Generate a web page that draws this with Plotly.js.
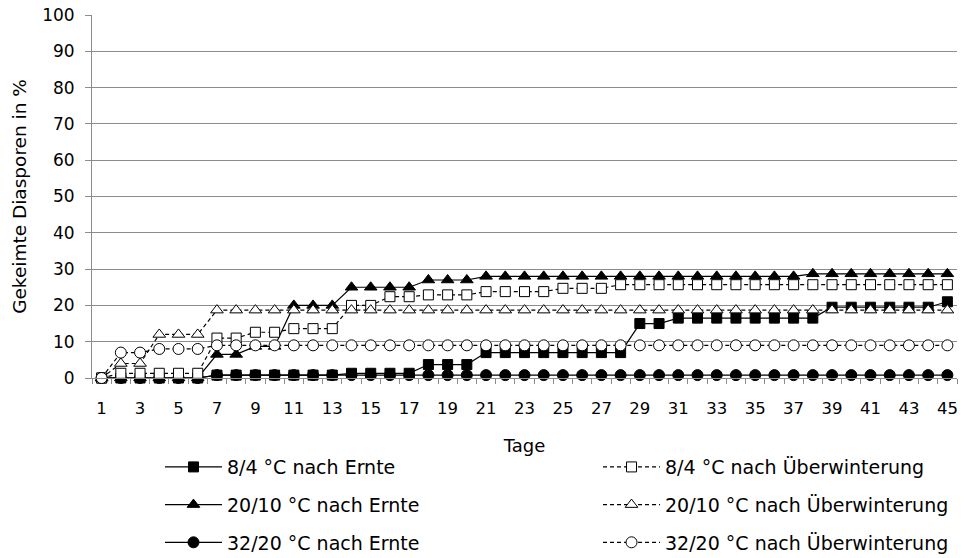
<!DOCTYPE html>
<html>
<head>
<meta charset="utf-8">
<script src="https://cdn.plot.ly/plotly-3.0.1.min.js"></script>
<style>html,body{margin:0;padding:0;background:#fff;}#chart{width:969px;height:558px;}</style>
</head>
<body>
<div id="chart"></div>
<script>
// Days (categories)
const days = [1,2,3,4,5,6,7,8,9,10,11,12,13,14,15,16,17,18,19,20,21,22,23,24,25,26,27,28,29,30,31,32,33,34,35,36,37,38,39,40,41,42,43,44,45];
const tickDays   = [1,3,5,7,9,11,13,15,17,19,21,23,25,27,29,31,33,35,37,39,41,43,45];
const tickLabels = ['1','3','5','7','9','11','13','15','17','19','21','23','25','27','29','31','33','35','37','39','41','43','45'];

// 8/4 °C nach Ernte (filled square, solid)
const ernte84 = [0,0,0,0,0,0,0.8,0.8,0.8,0.8,0.8,0.8,0.8,1.3,1.3,1.3,1.3,3.7,3.7,3.7,7,7,7,7,7,7,7,7,15,15,16.5,16.5,16.5,16.5,16.5,16.5,16.5,16.5,19.5,19.5,19.5,19.5,19.5,19.5,21];
// 8/4 °C nach Überwinterung (open square, dashed)
const uew84 = [0,1.3,1.3,1.3,1.3,1.3,11,11,12.6,12.6,13.6,13.6,13.6,20,20,22.4,22.4,22.9,22.9,22.9,23.8,23.8,23.8,23.8,24.7,24.7,24.7,25.7,25.7,25.7,25.7,25.7,25.7,25.7,25.7,25.7,25.7,25.7,25.7,25.7,25.7,25.7,25.7,25.7,25.7];
// 20/10 °C nach Ernte (filled triangle, solid)
const ernte2010 = [0,0,0,0,0,0,6.5,6.5,8.7,8.7,20,20,20,25,25,25,25,27,27,27,28,28,28,28,28,28,28,28,28,28,28,28,28,28,28,28,28,28.7,28.7,28.7,28.7,28.7,28.7,28.7,28.7];
// 20/10 °C nach Überwinterung (open triangle, dashed)
const uew2010 = [0,4,4,12,12,12,18.7,18.7,18.7,18.7,18.7,18.7,18.7,18.7,18.7,18.7,18.7,18.7,18.7,18.7,18.7,18.7,18.7,18.7,18.7,18.7,18.7,18.7,18.7,18.7,18.7,18.7,18.7,18.7,18.7,18.7,18.7,18.7,18.7,18.7,18.7,18.7,18.7,18.7,18.7];
// 32/20 °C nach Ernte (filled circle, solid)
const ernte3220 = [0,0,0,0,0,0,0.8,0.8,0.8,0.8,0.8,0.8,0.8,0.8,0.8,0.8,0.8,0.8,0.8,0.8,0.8,0.8,0.8,0.8,0.8,0.8,0.8,0.8,0.8,0.8,0.8,0.8,0.8,0.8,0.8,0.8,0.8,0.8,0.8,0.8,0.8,0.8,0.8,0.8,0.8];
// 32/20 °C nach Überwinterung (open circle, dashed)
const uew3220 = [0,7,7,8,8,8,9,9,9,9,9,9,9,9,9,9,9,9,9,9,9,9,9,9,9,9,9,9,9,9,9,9,9,9,9,9,9,9,9,9,9,9,9,9,9];

const names = {
  e84: '8/4 °C nach Ernte',
  u84: '8/4 °C nach Überwinterung',
  e2010: '20/10 °C nach Ernte',
  u2010: '20/10 °C nach Überwinterung',
  e3220: '32/20 °C nach Ernte',
  u3220: '32/20 °C nach Überwinterung'
};

const FONT = 'DejaVu Sans, Liberation Sans, Arial, sans-serif';
const BLACK = '#000000';

function tr(y, name, symbol, filled, dashed, size, legend, group) {
  return {
    x: days, y: y, name: name, type: 'scatter', mode: 'lines+markers',
    legend: legend, legendgroup: group,
    line: {color: BLACK, width: 1.2, dash: dashed ? '4px,3px' : 'solid'},
    marker: {symbol: symbol, size: size, color: filled ? BLACK : '#ffffff', line: {color: BLACK, width: 1}},
    cliponaxis: false
  };
}

// Ernte series drawn first, Überwinterung series on top (as in reference)
const data = [
  tr(ernte84, names.e84, 'square', true, false, 10, 'legend', 'g1'),
  tr(ernte2010, names.e2010, 'triangle-up', true, false, 11, 'legend', 'g2'),
  tr(ernte3220, names.e3220, 'circle', true, false, 11, 'legend', 'g3'),
  tr(uew84, names.u84, 'square', false, true, 10, 'legend2', 'g4'),
  tr(uew2010, names.u2010, 'triangle-up', false, true, 11, 'legend2', 'g5'),
  tr(uew3220, names.u3220, 'circle', false, true, 11, 'legend2', 'g6')
];

const GRID = '#8c8c8c';
const LEGFONT = {family: FONT, size: 19, color: BLACK};
const layout = {
  width: 969, height: 558,
  margin: {l: 92, r: 12, t: 15, b: 180, autoexpand: false},
  paper_bgcolor: '#ffffff', plot_bgcolor: '#ffffff',
  font: {family: FONT, size: 17, color: BLACK},
  showlegend: true,
  xaxis: {
    range: [0.5, 45.5], tickmode: 'array', tickvals: tickDays, ticktext: tickLabels,
    ticks: '', showgrid: false, zeroline: false,
    showline: true, linecolor: GRID, linewidth: 1,
    minor: {tickmode: 'linear', tick0: 0.5, dtick: 1, ticks: 'outside', ticklen: 5, tickcolor: GRID, showgrid: false},
    tickfont: {family: FONT, size: 16.5, color: BLACK},
    ticklabelstandoff: 15,
    title: {text: 'Tage', font: {family: FONT, size: 18, color: BLACK}, standoff: 22}
  },
  yaxis: {
    range: [0, 100], tickmode: 'linear', tick0: 0, dtick: 10,
    ticks: 'outside', ticklen: 6, tickcolor: GRID,
    showgrid: true, gridcolor: GRID, gridwidth: 1, zeroline: false,
    showline: true, linecolor: GRID, linewidth: 1,
    tickfont: {family: FONT, size: 17, color: BLACK},
    ticklabelstandoff: 7,
    title: {text: 'Gekeimte Diasporen in %', font: {family: FONT, size: 18.5, color: BLACK}, standoff: 10}
  },
  legend: {
    x: 0.0786, y: -0.193, xanchor: 'left', yanchor: 'top', orientation: 'v',
    traceorder: 'grouped', tracegroupgap: 10, itemwidth: 57,
    font: LEGFONT, bgcolor: 'rgba(0,0,0,0)'
  },
  legend2: {
    x: 0.585, y: -0.193, xanchor: 'left', yanchor: 'top', orientation: 'v',
    traceorder: 'grouped', tracegroupgap: 10, itemwidth: 57,
    font: LEGFONT, bgcolor: 'rgba(0,0,0,0)'
  }
};

Plotly.newPlot('chart', data, layout, {displayModeBar: false, staticPlot: true});
</script>
</body>
</html>
